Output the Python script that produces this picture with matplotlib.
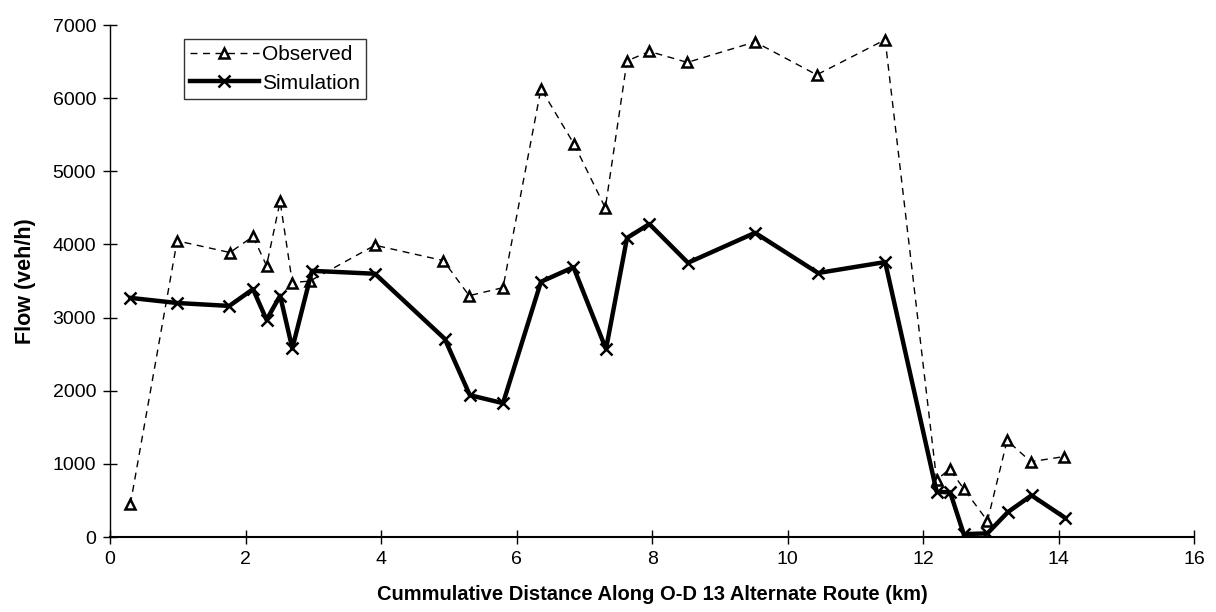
import matplotlib
matplotlib.use("Agg")
import matplotlib.pyplot as plt

# distance (km) and flows (veh/h)
obs_km = [0.3, 0.99, 1.77, 2.11, 2.31, 2.51, 2.69, 2.95, 3.91, 4.92, 5.30, 5.80,
          6.36, 6.85, 7.31, 7.63, 7.96, 8.52, 9.52, 10.43, 11.44,
          12.2, 12.39, 12.6, 12.95, 13.24, 13.59, 14.08]
obs_flow = [450, 4050, 3890, 4110, 3710, 4590, 3480, 3500, 3990, 3780, 3300, 3410,
            6130, 5370, 4500, 6510, 6640, 6490, 6770, 6320, 6800,
            780, 930, 660, 220, 1320, 1030, 1100]

sim_km = [0.3, 0.99, 1.76, 2.11, 2.31, 2.51, 2.69, 2.98, 3.91, 4.94, 5.31, 5.80,
          6.36, 6.84, 7.32, 7.63, 7.96, 8.53, 9.52, 10.45, 11.44,
          12.2, 12.4, 12.6, 12.95, 13.25, 13.6, 14.1]
sim_flow = [3270, 3200, 3160, 3390, 2970, 3300, 2580, 3640, 3600, 2710, 1940, 1830,
            3490, 3690, 2570, 4090, 4280, 3750, 4160, 3610, 3760,
            620, 610, 40, 50, 340, 570, 260]

plt.rcParams["font.family"] = ["Liberation Sans", "DejaVu Sans"]

fig = plt.figure(figsize=(12.16, 6.12), dpi=100)
ax = fig.add_axes([0.0905, 0.1225, 0.8915, 0.8365])

ax.plot(obs_km, obs_flow, color="black", linestyle=(0, (5, 4)), linewidth=1.0,
        marker="^", markersize=7.5, markerfacecolor="white", markeredgecolor="black",
        markeredgewidth=1.8, label="Observed")
ax.plot(sim_km, sim_flow, color="black", linewidth=3.2,
        marker="x", markersize=9, markeredgewidth=1.8, label="Simulation")

ax.set_xlim(0, 16)
ax.set_ylim(0, 7000)
ax.set_xticks(range(0, 17, 2))
ax.set_yticks(range(0, 7001, 1000))

for s in ["top", "right"]:
    ax.spines[s].set_visible(False)
ax.spines["left"].set_linewidth(1.0)
ax.spines["bottom"].set_linewidth(1.5)
ax.tick_params(direction="inout", length=10, width=1.0, labelsize=14, pad=5)

ax.set_xlabel("Cummulative Distance Along O-D 13 Alternate Route (km)",
              fontsize=14.5, fontweight="bold", labelpad=12)
ax.set_ylabel("Flow (veh/h)", fontsize=15.5, fontweight="bold", labelpad=12)

leg = ax.legend(loc="upper left", bbox_to_anchor=(0.068, 0.973), fontsize=15,
                frameon=True, fancybox=False, edgecolor="black", borderaxespad=0,
                handlelength=3.3, handletextpad=0.15, borderpad=0.3,
                labelspacing=0.45)
leg.get_frame().set_linewidth(1.0)

fig.savefig("out.png", dpi=100)
